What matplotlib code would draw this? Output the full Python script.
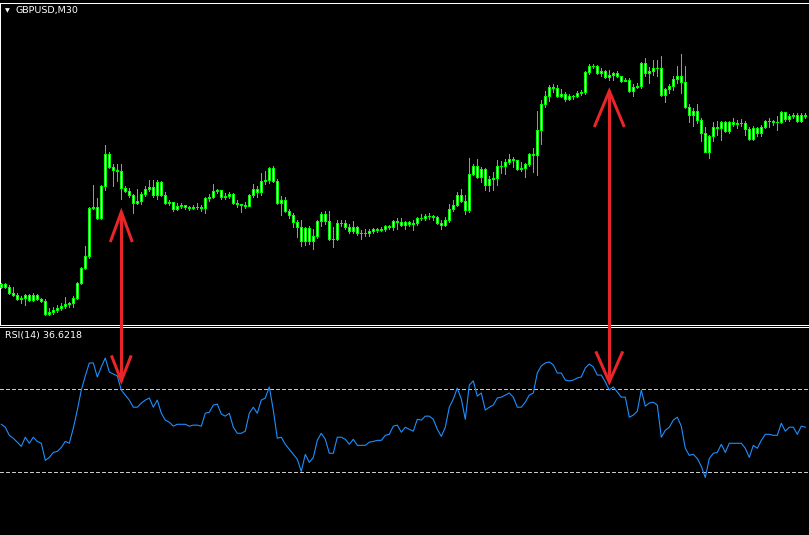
import matplotlib
matplotlib.use("Agg")
import matplotlib.pyplot as plt
from matplotlib.lines import Line2D
from matplotlib.transforms import IdentityTransform
import numpy as np

W, H, DPI = 809, 535, 100

symbol_label = "GBPUSD,M30"
rsi_label = "RSI(14) 36.6218"
rsi_levels = [70, 30]

base_price = 1.2500
pip = 0.0001
first_open_pips = 43

close_pips = [
    46, 43, 37, 35, 31, 32, 35, 30, 35, 31, 29, 16, 18, 20, 22, 24, 26, 27, 32, 47,
    62, 74, 122, 123, 112, 144, 176, 163, 160, 159, 142, 139, 135, 127, 129, 136, 141, 143, 135, 148,
    135, 127, 128, 121, 124, 125, 123, 122, 123, 123,
    122, 132, 133, 139, 140, 133, 134, 136, 127, 126, 125, 124, 135, 141, 138, 149, 150, 162, 149, 127,
    130, 119, 115, 108, 103, 89, 102, 89, 94, 109, 116, 109, 91, 91, 107, 107, 103, 99, 103, 97,
    97, 97, 99, 101, 100, 101, 104, 103, 109, 108,
    105, 108, 106, 107, 112, 112, 114, 114, 113, 107, 105, 110, 121, 125, 135, 129, 120, 156, 164, 153,
    161, 145, 151, 152, 164, 164, 168, 171, 170, 161, 162, 166, 176, 175, 200, 226, 234, 243, 242, 234,
    236, 231, 234, 234, 237, 238, 258, 264, 264, 257,
    259, 253, 255, 257, 254, 249, 250, 239, 243, 244, 267, 257, 259, 262, 262, 235, 241, 244, 251, 254,
    248, 223, 215, 219, 210, 197, 178, 194, 203, 202, 208, 199, 208, 206, 207, 207, 201, 191, 202, 197,
    203, 209, 209, 208, 208, 218, 211, 214, 215, 209, 215, 214,
]
high_pips = [
    47, 47, 45, 43, 37, 34, 36, 36, 37, 36, 32, 31, 22, 23, 25, 27, 33, 28, 34, 48,
    63, 84, 123, 145, 132, 145, 185, 178, 166, 166, 166, 144, 142, 136, 141, 138, 144, 150, 150, 150,
    149, 138, 130, 128, 127, 127, 125, 124, 125, 127,
    125, 133, 136, 146, 141, 140, 137, 138, 137, 130, 126, 128, 136, 146, 144, 157, 159, 163, 164, 151,
    134, 133, 121, 117, 110, 110, 103, 104, 101, 110, 118, 119, 119, 103, 110, 110, 110, 106, 109, 104,
    100, 101, 101, 102, 102, 103, 105, 105, 110, 112,
    112, 109, 109, 110, 113, 116, 116, 117, 115, 114, 110, 113, 126, 130, 138, 141, 135, 172, 166, 171,
    163, 162, 154, 158, 170, 169, 171, 176, 173, 170, 168, 167, 177, 182, 219, 230, 239, 245, 246, 245,
    241, 238, 236, 235, 239, 240, 259, 266, 266, 265,
    262, 260, 260, 258, 259, 254, 252, 252, 246, 247, 268, 272, 263, 270, 270, 274, 242, 246, 254, 264,
    276, 264, 226, 222, 226, 212, 203, 195, 208, 209, 209, 209, 209, 212, 210, 211, 209, 203, 204, 203,
    205, 210, 212, 210, 214, 219, 218, 216, 217, 217, 217, 217,
]
low_pips = [
    42, 42, 36, 34, 30, 27, 25, 29, 29, 30, 28, 15, 15, 16, 18, 20, 22, 23, 23, 31,
    46, 61, 72, 121, 111, 111, 140, 162, 144, 149, 131, 138, 133, 117, 126, 126, 134, 139, 133, 131,
    134, 126, 125, 119, 120, 122, 121, 120, 121, 121,
    119, 117, 129, 132, 137, 131, 131, 132, 126, 123, 118, 122, 124, 133, 133, 135, 146, 147, 148, 126,
    115, 118, 112, 103, 93, 84, 85, 86, 81, 92, 104, 106, 90, 83, 90, 104, 101, 97, 97, 95,
    91, 94, 94, 97, 98, 99, 99, 101, 100, 101,
    104, 101, 104, 100, 105, 110, 110, 111, 110, 106, 101, 104, 108, 119, 124, 128, 116, 118, 155, 152,
    148, 140, 139, 140, 145, 157, 156, 166, 163, 160, 159, 153, 164, 158, 155, 186, 223, 229, 238, 233,
    233, 229, 230, 231, 233, 235, 236, 256, 262, 256,
    254, 252, 250, 250, 253, 248, 249, 238, 234, 242, 242, 254, 247, 255, 254, 234, 228, 237, 240, 247,
    237, 222, 208, 204, 207, 189, 178, 172, 189, 195, 190, 198, 197, 204, 202, 204, 195, 190, 190, 194,
    194, 202, 203, 205, 200, 207, 209, 209, 212, 208, 208, 212,
]
rsi_values = [
    53.1, 51.7, 47.8, 46.4, 44.5, 42.5, 46.9, 44.0, 46.9, 44.9,
    44.0, 35.8, 37.2, 39.6, 40.1, 42.0, 44.9, 44.0, 51.2, 59.9,
    69.5, 76.3, 82.5, 82.5, 75.8, 80.6, 84.9, 78.2, 77.2, 76.3,
    69.5, 67.1, 64.7, 61.3, 61.3, 63.3, 64.7, 65.7, 61.3, 64.7,
    58.4, 55.1, 54.1, 52.2, 53.1, 53.1, 53.1, 52.2, 52.7, 52.7,
    52.2, 58.4, 58.9, 62.3, 62.8, 58.0, 57.0, 58.4, 51.7, 48.8,
    48.8, 49.8, 58.4, 61.3, 58.4, 64.7, 65.7, 71.0, 59.9, 46.4,
    46.9, 43.5, 41.1, 38.7, 36.3, 30.5, 38.7, 34.8, 37.2, 45.4,
    48.8, 45.9, 39.2, 39.2, 46.9, 46.9, 45.9, 43.5, 45.9, 43.0,
    43.0, 43.0, 44.5, 44.9, 45.4, 45.4, 47.8, 48.3, 52.2, 52.7,
    49.3, 51.7, 50.7, 49.8, 55.5, 55.1, 57.0, 57.0, 55.5, 50.7,
    47.3, 51.7, 61.3, 65.2, 70.5, 65.2, 55.5, 71.9, 73.9, 66.6,
    68.1, 59.9, 61.3, 62.3, 65.7, 66.1, 67.1, 68.1, 66.1, 61.3,
    61.3, 63.7, 67.1, 68.1, 77.7, 81.1, 82.5, 83.0, 81.6, 77.7,
    77.7, 74.3, 73.9, 74.3, 75.3, 75.8, 80.1, 82.0, 80.6, 76.7,
    76.7, 73.4, 69.5, 71.0, 68.6, 66.1, 66.1, 56.5, 57.5, 59.4,
    69.5, 61.8, 63.3, 63.7, 62.3, 46.9, 50.2, 51.7, 55.1, 56.5,
    52.2, 41.6, 38.2, 38.7, 36.7, 32.9, 27.6, 36.7, 39.2, 39.6,
    43.5, 39.6, 44.0, 44.0, 44.0, 44.0, 41.6, 37.2, 43.0, 41.6,
    45.4, 48.3, 48.3, 47.8, 47.8, 53.6, 49.8, 51.7, 51.7, 48.3,
    52.2, 51.7,
]

# annotation arrows (bar index, price level in pips, RSI value)
arrow_bars = [30, 152]
arrow_top_pips = [118, 239]
arrow_bottom_rsi = [73.9, 73.4]

# ---------------- style ----------------
PX = 72.0 / DPI
LIME = "#00FF00"
RSI_COL = "#1E90FF"
RED = "#E8262A"

fig = plt.figure(figsize=(W / DPI, H / DPI), dpi=DPI, facecolor="black")

main_top, main_bot = 2.5, 324.5
rsi_top = 326.5
extra = 6  # axes extend past the right edge of the figure (no right border)
ax = fig.add_axes([0, 1 - main_bot / H, (W + extra) / W, (main_bot - main_top) / H])
ax2 = fig.add_axes([0, 0, (W + extra) / W, 1 - rsi_top / H])

n = len(close_pips)
x = np.arange(n)
close = base_price + np.array(close_pips) * pip
open_ = np.concatenate([[base_price + first_open_pips * pip], close[:-1]])
high = np.maximum.reduce([base_price + np.array(high_pips) * pip, open_, close])
low = np.minimum.reduce([base_price + np.array(low_pips) * pip, open_, close])

xl = (-1.3 / 4, (W + extra - 1.3) / 4)
for a in (ax, ax2):
    a.set_facecolor("black")
    a.set_xlim(*xl)
    a.set_xticks([])
    a.set_yticks([])
    for s in a.spines.values():
        s.set_visible(False)

for k in ("top", "bottom", "left"):
    ax.spines[k].set_visible(True)
    ax.spines[k].set_color("white")
    ax.spines[k].set_linewidth(PX)
ax2.spines["top"].set_visible(True)
ax2.spines["top"].set_color("white")
ax2.spines["top"].set_linewidth(PX)

ax.set_ylim(base_price + (330 - main_bot) * pip, base_price + (330 - main_top) * pip)

ax.vlines(x, low, high, colors=LIME, linewidth=PX, antialiased=False, zorder=2)
ax.bar(x, close - open_, bottom=open_, width=0.5,
       color="white", edgecolor=LIME,
       linewidth=PX, antialiased=False, zorder=3)

ax2.set_ylim(0, 100)
for lv in rsi_levels:
    ax2.axhline(lv, color="#C8C8C8", linewidth=PX, dashes=(3.5, 2.5), antialiased=False)
ax2.plot(x, rsi_values, color=RSI_COL, linewidth=PX * 1.1, zorder=3)

fig.text(16 / W, 1 - 10.5 / H, symbol_label, color="white", fontsize=6.8,
         va="center", ha="left", family="DejaVu Sans")
fig.text(4.5 / W, 1 - 10.5 / H, "\u25BC", color="white", fontsize=4.5,
         va="center", ha="left", family="DejaVu Sans")
fig.text(5 / W, 1 - 335.5 / H, rsi_label, color="white", fontsize=6.8,
         va="center", ha="left", family="DejaVu Sans")

# arrows
fig.canvas.draw()
head_w = [11, 15]
head_h = [30, 36]
for b, tp, br, hw, hh in zip(arrow_bars, arrow_top_pips, arrow_bottom_rsi, head_w, head_h):
    xt, yt = ax.transData.transform((b, base_price + tp * pip))
    xb, yb = ax2.transData.transform((b, br))
    kw = dict(color=RED, linewidth=3 * PX, transform=IdentityTransform(),
              solid_capstyle="butt", solid_joinstyle="miter", zorder=10)
    fig.add_artist(Line2D([xt, xb], [yt, yb], **kw))
    fig.add_artist(Line2D([xt - hw, xt, xt + hw], [yt - hh, yt, yt - hh], **kw))
    fig.add_artist(Line2D([xb - hw * 0.9, xb, xb + hw * 0.9], [yb + hh * 0.85, yb, yb + hh * 0.85], **kw))

fig.savefig("out.png", dpi=DPI, facecolor="black")
